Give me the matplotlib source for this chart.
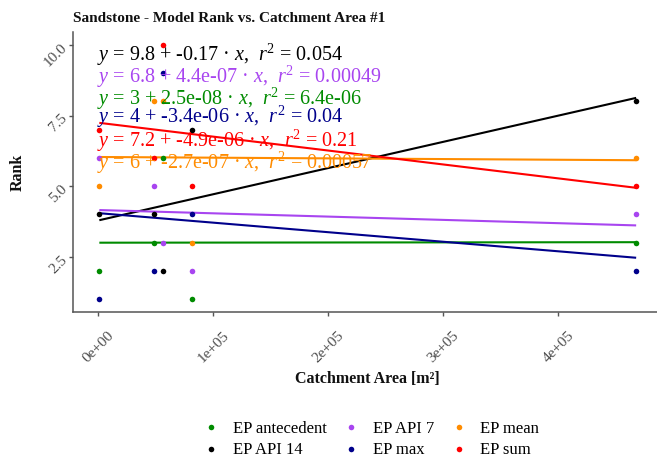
import numpy as np
import matplotlib
matplotlib.use("Agg")
import matplotlib.pyplot as plt

plt.rcParams['font.family'] = ['Liberation Serif', 'DejaVu Serif']
plt.rcParams['mathtext.fontset'] = 'custom'
plt.rcParams['mathtext.rm'] = 'Liberation Serif'
plt.rcParams['mathtext.it'] = 'Liberation Serif:italic'
plt.rcParams['mathtext.bf'] = 'Liberation Serif:bold'

# ---------------- data ----------------
catchment_area = [1000, 48500, 56500, 81500, 467600]
series_names = ['EP antecedent', 'EP API 14', 'EP API 7', 'EP max', 'EP mean', 'EP sum']
rank_antecedent = [2, 3, 6, 1, 3]
rank_api14 = [4, 4, 2, 7, 8]
rank_api7 = [6, 5, 3, 2, 4]
rank_max = [1, 2, 9, 4, 2]
rank_mean = [5, 8, 8, 3, 6]
rank_sum = [7, 6, 10, 5, 5]
series_ranks = [rank_antecedent, rank_api14, rank_api7, rank_max, rank_mean, rank_sum]
series_colors = ['#008B00', '#000000', '#A845F0', '#00008B', '#FF8C00', '#FF0000']

eq_labels = [
    '$y$ = 9.8 + -0.17 · $x$,  $r^{2}$ = 0.054',
    '$y$ = 6.8 + 4.4e-07 · $x$,  $r^{2}$ = 0.00049',
    '$y$ = 3 + 2.5e-08 · $x$,  $r^{2}$ = 6.4e-06',
    '$y$ = 4 + -3.4e-06 · $x$,  $r^{2}$ = 0.04',
    '$y$ = 7.2 + -4.9e-06 · $x$,  $r^{2}$ = 0.21',
    '$y$ = 6 + -2.7e-07 · $x$,  $r^{2}$ = 0.00057',
]
eq_colors = ['#000000', '#A845F0', '#008B00', '#00008B', '#FF0000', '#FF8C00']
eq_baselines_px = [60.7, 83.3, 105.0, 123.3, 146.7, 169.0]

x_ticks = [0, 100000, 200000, 300000, 400000]
x_tick_labels = ['0e+00', '1e+05', '2e+05', '3e+05', '4e+05']
y_ticks = [2.5, 5.0, 7.5, 10.0]
y_tick_labels = ['2.5', '5.0', '7.5', '10.0']

title = 'Sandstone - Model Rank vs. Catchment Area #1'
x_title = 'Catchment Area [m²]'
y_title = 'Rank'

# ---------------- figure ----------------
W, H = 657, 464
fig = plt.figure(figsize=(W / 100, H / 100), dpi=100)
fig.patch.set_facecolor('white')
left_px, right_px, top_px, bottom_px = 72.5, 663.0, 33.3, 312.7
ax = fig.add_axes([left_px / W, 1 - bottom_px / H,
                   (right_px - left_px) / W, (bottom_px - top_px) / H])
ax.set_facecolor('white')

handles = []
for name, ranks, col in zip(series_names, series_ranks, series_colors):
    x = np.array(catchment_area, dtype=float)
    y = np.array(ranks, dtype=float)
    fit = np.polyfit(x, y, 1)
    xs = np.array([x.min(), x.max()])
    ax.plot(xs, np.polyval(fit, xs), color=col, lw=1.5, zorder=2,
            solid_capstyle='butt')
    h = ax.scatter(x, y, s=16, color=col, linewidths=0, zorder=3, label=name)
    handles.append(h)

allx = np.array(catchment_area, dtype=float)
ally = np.concatenate([np.array(r, dtype=float) for r in series_ranks])
xr = allx.max() - allx.min()
yr = ally.max() - ally.min()
ax.set_xlim(allx.min() - 0.05 * xr, allx.max() + 0.05 * xr)
ax.set_ylim(ally.min() - 0.05 * yr, ally.max() + 0.05 * yr)

for s in ['top', 'right']:
    ax.spines[s].set_visible(False)
for s in ['left', 'bottom']:
    ax.spines[s].set_color('#555555')
    ax.spines[s].set_linewidth(1.1)

ax.set_xticks(x_ticks)
ax.set_xticklabels(x_tick_labels)
ax.set_yticks(y_ticks)
ax.set_yticklabels(y_tick_labels)
ax.tick_params(axis='both', colors='#555555', length=2.8, width=1.0,
               labelcolor='#4D4D4D', labelsize=11)
ax.tick_params(axis='x', pad=9)
ax.tick_params(axis='y', pad=2.5)
for lab in ax.get_xticklabels():
    lab.set_rotation(45)
    lab.set_ha('center')
    lab.set_va('top')
for lab in ax.get_yticklabels():
    lab.set_rotation(45)
    lab.set_rotation_mode('anchor')
    lab.set_ha('right')
    lab.set_va('center')

ax.set_xlabel(x_title, fontsize=11.5, fontweight='bold', color='#111111')
ax.xaxis.set_label_coords(367.7 / W, 1 - 379.0 / H, transform=fig.transFigure)
ax.xaxis.label.set_va('center')
ax.set_ylabel(y_title, fontsize=11.5, fontweight='bold', color='#111111')
ax.yaxis.set_label_coords(18.0 / W, 1 - 172.5 / H, transform=fig.transFigure)
ax.yaxis.label.set_va('center')
ax.yaxis.label.set_rotation_mode('default')

fig.text(73 / W, 1 - 22.0 / H, title, fontsize=11, fontweight='bold',
         ha='left', va='baseline', color='#111111')

for lbl, col, base in zip(eq_labels, eq_colors, eq_baselines_px):
    fig.text(96.7 / W, 1 - base / H, lbl, color=col, fontsize=14.5,
             ha='left', va='baseline', zorder=10)

fig.legend(handles, series_names, ncol=3, loc='center',
           bbox_to_anchor=(371 / W, 1 - 439.5 / H), frameon=False,
           prop={'family': 'Liberation Serif', 'size': 12},
           handlelength=1.0, handletextpad=0.78, columnspacing=1.0,
           labelspacing=0.32, scatterpoints=1, borderpad=0, borderaxespad=0)

fig.savefig('out.png', dpi=100, facecolor='white')
